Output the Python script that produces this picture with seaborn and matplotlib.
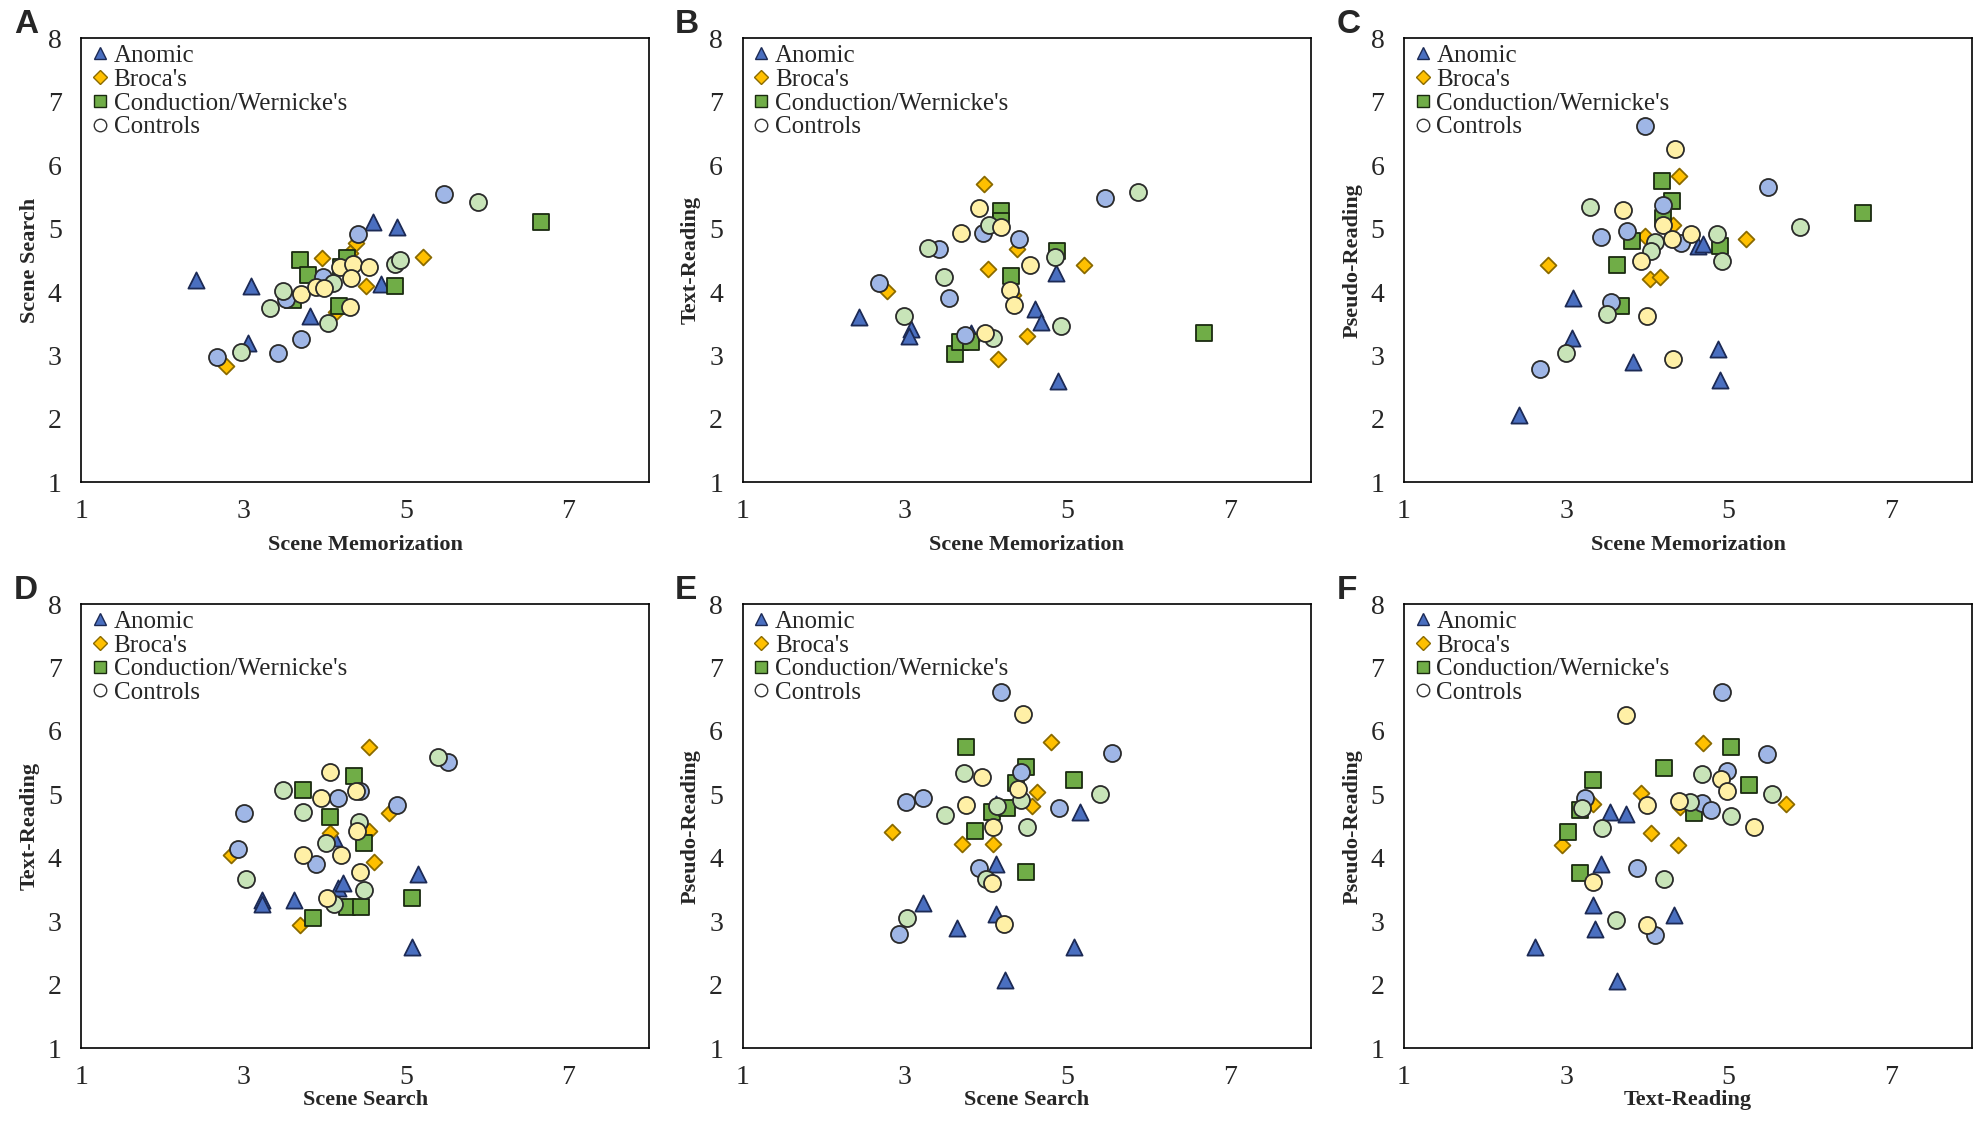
import matplotlib
matplotlib.use("Agg")
import matplotlib.pyplot as plt
from matplotlib.lines import Line2D
import pandas as pd
import seaborn as sns

# ---- data, (x, y) per group and panel ----
# Controls are split by the fill colour used in the figure (blue / green / yellow)
A_anomic = [(2.42, 4.19), (3.09, 4.10), (3.06, 3.20), (3.82, 3.62), (4.60, 5.11), (4.89, 5.03), (4.69, 4.12)]
A_broca = [(2.79, 2.83), (3.97, 4.53), (4.39, 4.78), (4.31, 4.62), (4.51, 4.10), (5.21, 4.55), (4.14, 3.69)]
A_cond = [(3.70, 4.50), (3.80, 4.27), (3.61, 3.87), (4.18, 3.78), (4.20, 4.40), (4.27, 4.54), (4.86, 4.10), (6.66, 5.10)]
A_ctrl_blue = [(5.47, 5.55), (4.41, 4.92), (3.98, 4.23), (3.71, 3.26), (3.43, 3.04), (2.67, 2.98), (3.52, 3.89)]
A_ctrl_green = [(5.89, 5.42), (4.87, 4.44), (4.93, 4.50), (4.10, 4.14), (3.48, 4.02), (3.32, 3.75), (4.04, 3.52), (2.97, 3.05)]
A_ctrl_yellow = [(3.71, 3.97), (3.89, 4.08), (3.99, 4.06), (4.19, 4.39), (4.35, 4.45), (4.55, 4.40), (4.32, 4.22), (4.31, 3.77)]

B_anomic = [(2.43, 3.60), (3.07, 3.41), (3.05, 3.30), (3.82, 3.36), (4.60, 3.73), (4.68, 3.53), (4.86, 4.30), (4.89, 2.60)]
B_broca = [(3.97, 5.71), (4.38, 4.68), (4.02, 4.37), (5.21, 4.42), (2.78, 4.01), (4.51, 3.31), (4.15, 2.95), (4.33, 3.95)]
B_cond = [(4.19, 5.28), (4.18, 5.12), (4.88, 4.64), (4.31, 4.25), (3.62, 3.03), (3.68, 3.21), (3.81, 3.21), (6.68, 3.36)]
B_ctrl_blue = [(5.47, 5.49), (3.96, 4.93), (4.40, 4.84), (3.42, 4.68), (2.68, 4.14), (3.54, 3.91), (3.74, 3.32)]
B_ctrl_green = [(5.87, 5.58), (4.04, 5.06), (3.29, 4.70), (3.48, 4.24), (2.99, 3.63), (4.09, 3.27), (4.92, 3.46), (4.85, 4.55)]
B_ctrl_yellow = [(3.91, 5.32), (3.69, 4.93), (4.19, 5.03), (4.54, 4.43), (4.30, 4.03), (4.35, 3.80), (3.99, 3.36)]

C_anomic = [(2.42, 2.06), (3.08, 3.90), (3.07, 3.27), (3.82, 2.90), (4.87, 3.10), (4.89, 2.61), (4.62, 4.73), (4.69, 4.75)]
C_broca = [(2.78, 4.42), (3.97, 4.89), (4.03, 4.20), (4.16, 4.23), (4.32, 5.05), (4.39, 5.83), (5.22, 4.84), (4.47, 4.84)]
C_cond = [(4.18, 5.75), (4.30, 5.44), (4.19, 5.17), (3.81, 4.80), (3.63, 4.42), (3.68, 3.78), (4.89, 4.73), (6.66, 5.24)]
C_ctrl_blue = [(3.97, 6.62), (5.48, 5.66), (4.19, 5.38), (3.75, 4.96), (3.43, 4.87), (4.41, 4.78), (3.55, 3.85), (2.68, 2.79)]
C_ctrl_green = [(3.29, 5.34), (4.10, 4.79), (4.04, 4.65), (4.86, 4.91), (4.92, 4.49), (5.88, 5.02), (3.50, 3.66), (3.00, 3.04)]
C_ctrl_yellow = [(4.34, 6.25), (3.70, 5.29), (4.19, 5.06), (4.30, 4.84), (4.54, 4.92), (3.92, 4.49), (4.00, 3.63), (4.32, 2.94)]

D_anomic = [(3.23, 3.33), (3.23, 3.27), (3.62, 3.34), (4.12, 4.31), (4.16, 3.53), (4.22, 3.60), (5.15, 3.74), (5.07, 2.59)]
D_broca = [(4.54, 5.74), (4.79, 4.71), (4.07, 4.39), (4.55, 4.42), (2.85, 4.05), (4.61, 3.93), (3.69, 2.94)]
D_cond = [(4.36, 5.29), (3.73, 5.07), (4.07, 4.64), (4.48, 4.24), (5.07, 3.36), (4.27, 3.22), (4.45, 3.22), (3.85, 3.05)]
D_ctrl_blue = [(5.52, 5.51), (4.44, 5.05), (4.16, 4.95), (4.89, 4.83), (3.00, 4.71), (2.93, 4.14), (3.89, 3.91)]
D_ctrl_green = [(5.40, 5.59), (3.48, 5.07), (3.73, 4.73), (4.42, 4.56), (4.01, 4.24), (3.03, 3.66), (4.48, 3.49), (4.12, 3.27)]
D_ctrl_yellow = [(4.07, 5.36), (4.38, 5.05), (3.95, 4.95), (4.40, 4.43), (3.73, 4.05), (4.20, 4.05), (4.44, 3.78), (4.03, 3.37)]

E_anomic = [(3.22, 3.29), (3.64, 2.89), (4.12, 3.91), (4.12, 3.12), (4.23, 2.08), (5.08, 2.60), (5.16, 4.72), (4.12, 4.85)]
E_broca = [(4.80, 5.82), (2.84, 4.41), (3.71, 4.22), (4.08, 4.22), (4.63, 5.04), (4.57, 4.82)]
E_cond = [(3.75, 5.75), (4.49, 5.43), (4.37, 5.18), (5.08, 5.23), (4.07, 4.73), (4.26, 4.78), (3.87, 4.43), (4.49, 3.77)]
E_ctrl_blue = [(4.18, 6.61), (5.55, 5.65), (3.01, 4.88), (3.22, 4.95), (4.90, 4.78), (4.43, 5.36), (3.91, 3.84), (2.93, 2.80)]
E_ctrl_green = [(3.73, 5.33), (3.50, 4.68), (4.14, 4.81), (4.43, 4.91), (4.50, 4.49), (5.40, 5.00), (4.00, 3.67), (3.03, 3.05)]
E_ctrl_yellow = [(4.45, 6.27), (3.95, 5.28), (4.39, 5.09), (3.75, 4.83), (4.08, 4.49), (4.07, 3.61), (4.22, 2.95)]

F_anomic = [(2.62, 2.60), (3.62, 2.06), (3.33, 3.26), (3.36, 2.87), (3.43, 3.90), (3.54, 4.73), (3.74, 4.69), (4.33, 3.10)]
F_broca = [(4.69, 5.81), (3.92, 5.02), (3.33, 4.85), (2.95, 4.20), (4.04, 4.39), (4.38, 4.20), (5.71, 4.85), (4.40, 4.80)]
F_cond = [(5.03, 5.74), (4.21, 5.42), (3.33, 5.22), (5.25, 5.15), (3.17, 4.76), (3.02, 4.41), (4.57, 4.70), (3.17, 3.76)]
F_ctrl_blue = [(4.92, 6.61), (5.47, 5.64), (4.98, 5.37), (3.23, 4.95), (4.67, 4.87), (4.79, 4.75), (3.87, 3.84), (4.10, 2.79)]
F_ctrl_green = [(4.67, 5.32), (4.52, 4.88), (5.03, 4.66), (5.54, 5.00), (3.20, 4.78), (3.44, 4.47), (4.21, 3.66), (3.61, 3.02)]
F_ctrl_yellow = [(3.74, 6.25), (4.91, 5.25), (4.98, 5.05), (4.39, 4.89), (3.99, 4.83), (5.31, 4.49), (3.33, 3.62), (3.99, 2.94)]

panel_letters = ["A", "B", "C", "D", "E", "F"]
x_labels = ["Scene Memorization", "Scene Memorization", "Scene Memorization",
            "Scene Search", "Scene Search", "Text-Reading"]
y_labels = ["Scene Search", "Text-Reading", "Pseudo-Reading",
            "Text-Reading", "Pseudo-Reading", "Pseudo-Reading"]
legend_labels = ["Anomic", "Broca's", "Conduction/Wernicke's", "Controls"]
x_ticks = [1, 3, 5, 7]
y_ticks = [1, 2, 3, 4, 5, 6, 7, 8]

panels = {
    "A": [A_anomic, A_broca, A_cond, A_ctrl_blue, A_ctrl_green, A_ctrl_yellow],
    "B": [B_anomic, B_broca, B_cond, B_ctrl_blue, B_ctrl_green, B_ctrl_yellow],
    "C": [C_anomic, C_broca, C_cond, C_ctrl_blue, C_ctrl_green, C_ctrl_yellow],
    "D": [D_anomic, D_broca, D_cond, D_ctrl_blue, D_ctrl_green, D_ctrl_yellow],
    "E": [E_anomic, E_broca, E_cond, E_ctrl_blue, E_ctrl_green, E_ctrl_yellow],
    "F": [F_anomic, F_broca, F_cond, F_ctrl_blue, F_ctrl_green, F_ctrl_yellow],
}

# style per series: marker, fill, edge, size
series_style = [
    ("^", "#4a6fc0", "#1c2a55", 135),
    ("D", "#ffc000", "#8a6a00", 65),
    ("s", "#70ad47", "#1a2a10", 140),
    ("o", "#9fb6e6", "#2a2a2a", 150),
    ("o", "#c8e4b8", "#2a2a2a", 150),
    ("o", "#fff0a6", "#2a2a2a", 150),
]

sns.set_theme(style="white")
plt.rcParams["font.family"] = ["Liberation Serif", "DejaVu Serif"]

fig = plt.figure(figsize=(19.8, 11.27), dpi=100)

col_left = [0.041, 0.375, 0.709]
ax_w = 0.287
row_bottom = [0.572, 0.070]
ax_h = 0.394

for i, letter in enumerate(panel_letters):
    r, c = divmod(i, 3)
    ax = fig.add_axes([col_left[c], row_bottom[r], ax_w, ax_h])
    for pts, (mk, fc, ec, sz) in zip(panels[letter], series_style):
        df = pd.DataFrame(pts, columns=["x", "y"])
        sns.scatterplot(data=df, x="x", y="y", marker=mk, color=fc, edgecolor=ec,
                        linewidth=1.3, s=sz, ax=ax, legend=False, zorder=3)
    ax.set_xlim(1, 8)
    ax.set_ylim(1, 8)
    ax.set_xticks(x_ticks)
    ax.set_yticks(y_ticks)
    ax.tick_params(axis="both", length=0, labelsize=20, pad=14)
    ax.tick_params(axis="x", pad=12)
    for sp in ax.spines.values():
        sp.set_color("black")
        sp.set_linewidth(1.2)
    ax.set_xlabel(x_labels[i], fontsize=16, fontweight="bold", labelpad=8 if r == 0 else 0)
    ax.set_ylabel(y_labels[i], fontsize=16, fontweight="bold", labelpad=6)

    handles = []
    for (mk, fc, ec, sz), lab in zip(series_style[:3], legend_labels[:3]):
        handles.append(Line2D([], [], marker=mk, linestyle="", markerfacecolor=fc,
                              markeredgecolor=ec, markersize=9 if mk != "D" else 7,
                              label=lab))
    handles.append(Line2D([], [], marker="o", linestyle="", markerfacecolor="white",
                          markeredgecolor="#333333", markersize=9, label=legend_labels[3]))
    ax.legend(handles=handles, loc="upper left", frameon=False, fontsize=18,
              handletextpad=0.05, labelspacing=0.05, borderaxespad=0.15,
              handlelength=1.0, borderpad=0.1)

    fig.text(col_left[c] - 0.034, row_bottom[r] + ax_h + 0.012, letter,
             fontsize=24, fontweight="bold", family="Liberation Sans",
             ha="left", va="center")

fig.savefig("out.png", dpi=100)
